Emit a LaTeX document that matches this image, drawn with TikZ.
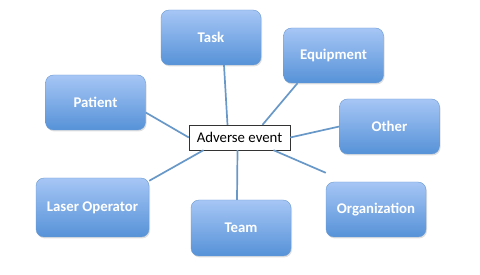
\documentclass[tikz,border=0pt]{standalone}
\usepackage{fontspec}
\setmainfont{Carlito}
\definecolor{boxtop}{RGB}{166,198,245}
\definecolor{boxbot}{RGB}{86,146,216}
\definecolor{boxline}{RGB}{108,155,210}
\definecolor{linkblue}{RGB}{104,152,200}
\usetikzlibrary{positioning,calc,shadows}

\begin{document}
\begin{tikzpicture}[x=1pt,y=-1pt,
  cause/.style={draw=boxline,rounded corners=8pt,top color=boxtop,bottom color=boxbot,
    minimum width=100pt,minimum height=55pt,font=\fontsize{14.8}{17}\selectfont\bfseries,
    text=white,align=center,drop shadow={shadow xshift=1pt,shadow yshift=-1.5pt,opacity=0.25}},
  event/.style={draw=black!80,fill=white,minimum width=101pt,minimum height=25pt,
    font=\fontsize{14.8}{17}\selectfont,inner sep=2pt},
  link/.style={linkblue,line width=1.7pt}]
  \useasboundingbox (0,0) rectangle (480,275);
  % causes round the event
  \node[cause] (task) at (211,37.5) {Task};
  \node[cause] (equip) at (333.5,55.5) {Equipment};
  \node[cause] (patient) at (95.5,102.5) {Patient};
  \node[cause] (other) at (389.5,126.5) {Other};
  \node[cause,minimum width=113pt,minimum height=59pt] (laser) at (92.5,207.5) {Laser Operator};
  \node[cause,minimum height=56pt] (team) at (241,228) {Team};
  \node[cause] (org) at (376,209.5) {Organization};
  \node[event] (event) at (239.5,137.5) {Adverse event};
  % connectors
  \draw[link] ([xshift=13pt]task.south) -- ([xshift=-12pt]event.north);
  \draw[link] ([xshift=-36pt]equip.south) -- ([xshift=23pt]event.north);
  \draw[link] ([yshift=-10pt]patient.east) -- (event.west);
  \draw[link] (other.west) -- (event.east);
  \draw[link] ([yshift=-3pt]laser.north east) -- ([xshift=-36pt]event.south);
  \draw[link] ([xshift=-4pt]team.north) -- ([xshift=-2pt]event.south);
  \draw[link] ([yshift=9pt]org.north west) -- ([xshift=34pt]event.south);
\end{tikzpicture}
\end{document}
